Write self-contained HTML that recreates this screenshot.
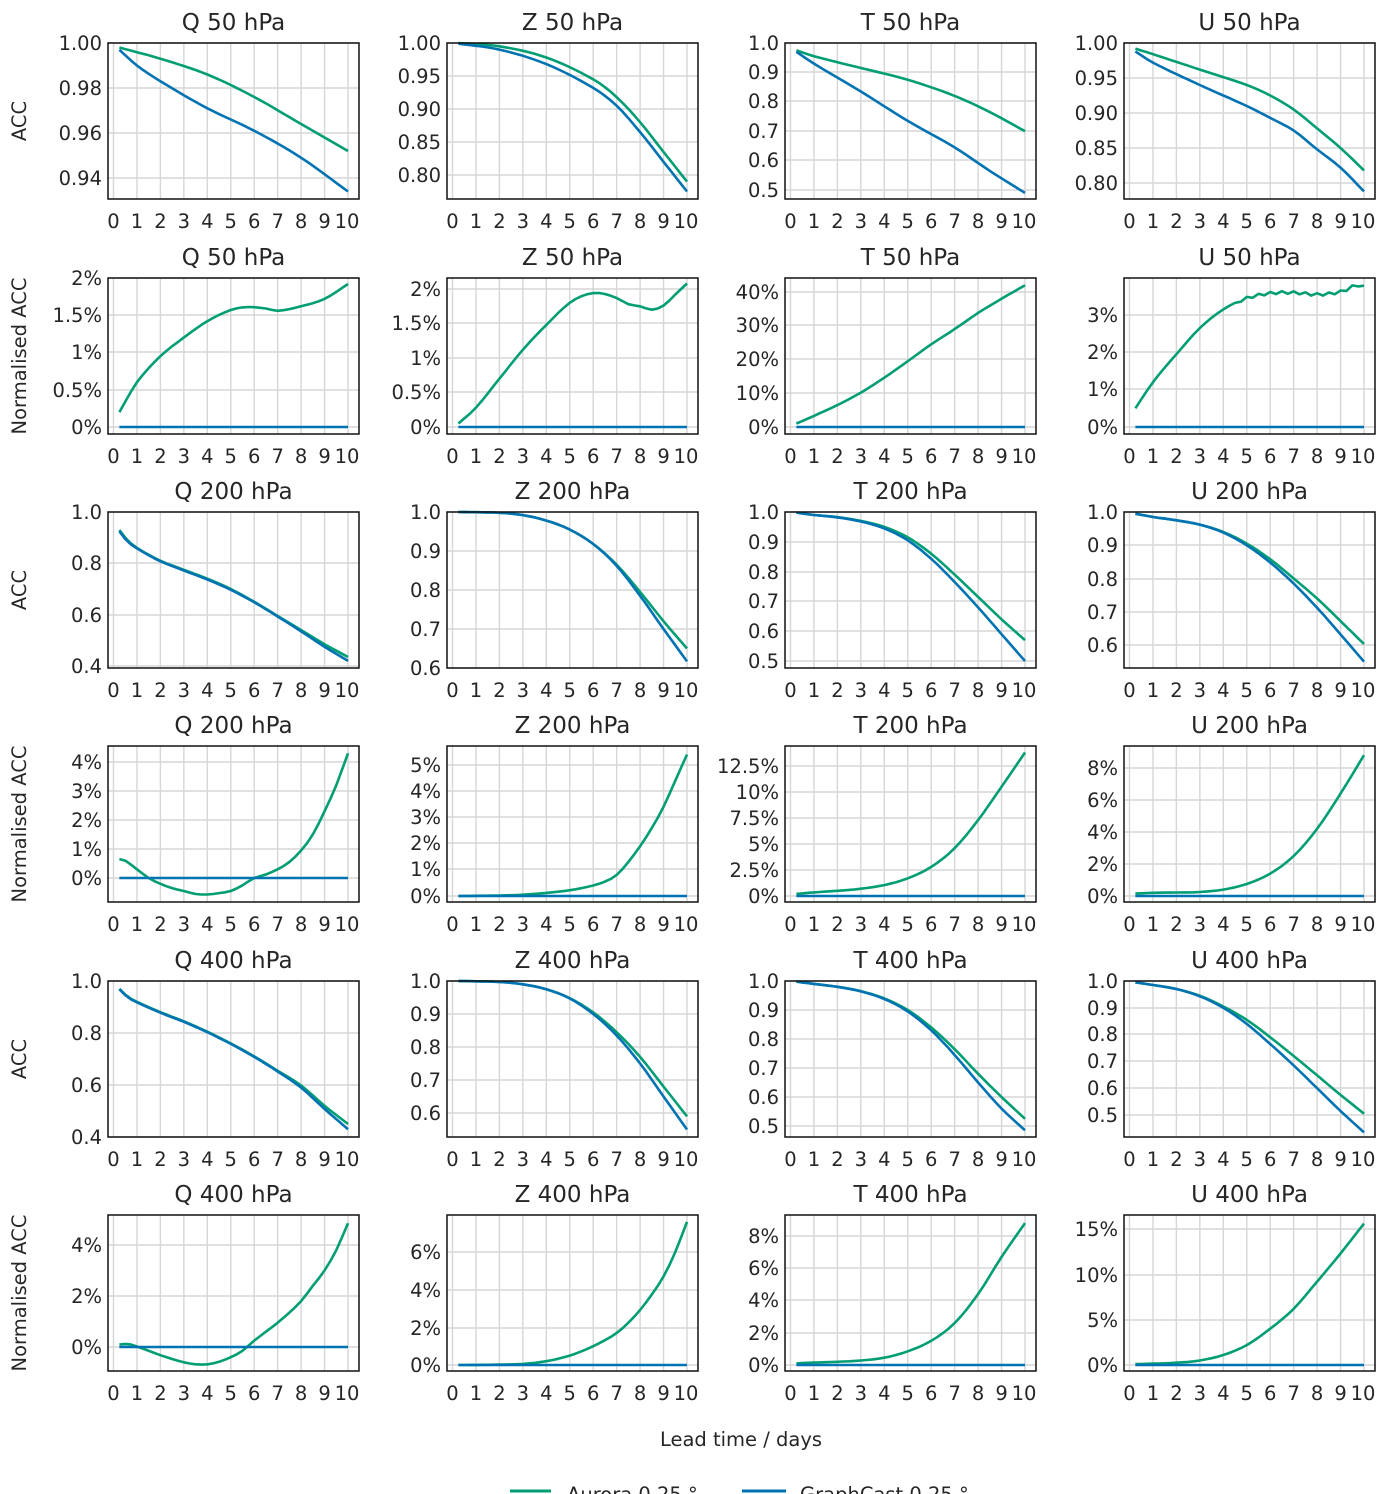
<!DOCTYPE html>
<html><head><meta charset="utf-8"><style>
html,body{margin:0;padding:0;background:#fff;}
svg{display:block;}
text{font-family:"DejaVu Sans","Liberation Sans",sans-serif;fill:#262626;}
</style></head><body>
<svg id="s" width="1380" height="1494" xmlns="http://www.w3.org/2000/svg"></svg>
<script>
const S=document.getElementById('s');
const COLX=[108,447,785,1124], ROWY=[43,278,512,746,981,1215], W=251, H=156;
const G='#029e73', B='#0173b2';
const P=[
[0,0,'Q 50 hPa',[['1.00',43,1],['0.98',88,.98],['0.96',133,.96],['0.94',178,.94]],
 [[.25,.998],[2,.993],[4,.986],[6,.976],[8,.964],[10,.952]],
 [[.25,.997],[1,.99],[2,.983],[4,.971],[6,.961],[8,.949],[10,.934]]],
[0,1,'Z 50 hPa',[['1.00',43,1],['0.95',76,.95],['0.90',109,.90],['0.85',142,.85],['0.80',175,.80]],
 [[.25,1],[2,.995],[4,.978],[6,.945],[7,.918],[8,.88],[9,.835],[10,.79]],
 [[.25,.999],[2,.99],[4,.968],[6,.932],[7,.905],[8,.865],[9,.82],[10,.775]]],
[0,2,'T 50 hPa',[['1.0',43,1],['0.9',72,.9],['0.8',101,.8],['0.7',131,.7],['0.6',160,.6],['0.5',190,.5]],
 [[.25,.975],[1,.955],[3,.915],[5,.875],[7,.82],[8.5,.765],[10,.70]],
 [[.25,.97],[1,.93],[3,.835],[5,.735],[7,.645],[8.5,.565],[10,.49]]],
[0,3,'U 50 hPa',[['1.00',43,1],['0.95',78,.95],['0.90',113,.90],['0.85',148,.85],['0.80',183,.80]],
 [[.25,.992],[1,.984],[3,.962],[5,.94],[6,.925],[7,.905],[8,.878],[9,.85],[10,.818]],
 [[.25,.988],[1,.972],[3,.94],[5,.91],[6,.893],[7,.875],[8,.848],[9,.822],[10,.788]]],

[1,0,'Q 50 hPa',[['2%',278,2],['1.5%',315,1.5],['1%',352,1],['0.5%',390,.5],['0%',427,0]],
 [[.25,.2],[1,.6],[2,.95],[3,1.2],[4,1.42],[5,1.57],[5.7,1.61],[6.5,1.59],[7,1.56],[8,1.62],[9,1.72],[10,1.92]],null],
[1,1,'Z 50 hPa',[['2%',289,2],['1.5%',323,1.5],['1%',358,1],['0.5%',392,.5],['0%',427,0]],
 [[.25,.05],[1,.28],[2,.7],[3,1.12],[4,1.48],[5,1.8],[5.7,1.92],[6.3,1.94],[7,1.87],[7.5,1.78],[8,1.75],[8.5,1.7],[9,1.76],[9.5,1.92],[10,2.08]],null],
[1,2,'T 50 hPa',[['40%',292,40],['30%',325,30],['20%',359,20],['10%',393,10],['0%',427,0]],
 [[.25,1],[1,3.3],[2,6.5],[3,10.2],[4,14.6],[5,19.5],[6,24.5],[7,29],[8,33.8],[9,38],[10,42]],null],
[1,3,'U 50 hPa',[['3%',315,3],['2%',352,2],['1%',389,1],['0%',427,0]],
 [[.25,.5],[1,1.2],[2,1.95],[3,2.65],[4,3.15],[5,3.45],[6,3.58],[7,3.6],[8,3.55],[9,3.62],[9.7,3.8],[10,3.75]],null,true],

[2,0,'Q 200 hPa',[['1.0',512,1],['0.8',563,.8],['0.6',615,.6],['0.4',666,.4]],
 [[.25,.93],[.6,.89],[1,.86],[2,.81],[3,.775],[4,.74],[5,.7],[6,.65],[7,.595],[8,.54],[9,.485],[10,.435]],
 [[.25,.925],[.6,.885],[1,.858],[2,.808],[3,.772],[4,.737],[5,.697],[6,.648],[7,.593],[8,.535],[9,.475],[10,.42]]],
[2,1,'Z 200 hPa',[['1.0',512,1],['0.9',551,.9],['0.8',590,.8],['0.7',629,.7],['0.6',668,.6]],
 [[.25,1],[2,.998],[3,.992],[4,.978],[5,.955],[6,.918],[7,.865],[8,.795],[9,.72],[10,.65]],
 [[.25,1],[2,.998],[3,.992],[4,.978],[5,.955],[6,.918],[7,.862],[8,.785],[9,.7],[10,.617]]],
[2,2,'T 200 hPa',[['1.0',512,1],['0.9',542,.9],['0.8',572,.8],['0.7',601,.7],['0.6',631,.6],['0.5',661,.5]],
 [[.25,.998],[1,.99],[2,.983],[3,.97],[4,.95],[5,.915],[6,.86],[7,.79],[8,.715],[9,.64],[10,.57]],
 [[.25,.998],[1,.99],[2,.982],[3,.968],[4,.945],[5,.905],[6,.843],[7,.765],[8,.68],[9,.59],[10,.5]]],
[2,3,'U 200 hPa',[['1.0',512,1],['0.9',545,.9],['0.8',579,.8],['0.7',612,.7],['0.6',645,.6]],
 [[.25,.995],[1,.985],[2,.975],[3,.962],[4,.94],[5,.905],[6,.858],[7,.8],[8,.74],[9,.672],[10,.603]],
 [[.25,.995],[1,.985],[2,.975],[3,.962],[4,.938],[5,.9],[6,.848],[7,.785],[8,.712],[9,.632],[10,.55]]],

[3,0,'Q 200 hPa',[['4%',762,4],['3%',791,3],['2%',820,2],['1%',849,1],['0%',878,0]],
 [[.25,.65],[.5,.6],[1,.3],[1.5,0],[2,-.2],[2.5,-.35],[3,-.45],[3.5,-.55],[4,-.57],[4.5,-.52],[5,-.45],[5.5,-.25],[6,0],[6.5,.12],[7,.3],[7.5,.55],[8,.95],[8.5,1.5],[9,2.3],[9.5,3.2],[10,4.3]],null],
[3,1,'Z 200 hPa',[['5%',765,5],['4%',791,4],['3%',817,3],['2%',843,2],['1%',869,1],['0%',896,0]],
 [[.25,0],[2,.02],[3,.05],[4,.12],[5,.22],[6,.4],[6.5,.55],[7,.8],[7.5,1.3],[8,1.9],[8.5,2.6],[9,3.4],[9.5,4.4],[10,5.4]],null],
[3,2,'T 200 hPa',[['12.5%',766,12.5],['10%',792,10],['7.5%',818,7.5],['5%',844,5],['2.5%',870,2.5],['0%',896,0]],
 [[.25,.2],[1,.35],[2,.5],[3,.7],[4,1.05],[5,1.7],[6,2.8],[7,4.6],[8,7.3],[9,10.5],[10,13.8]],null],
[3,3,'U 200 hPa',[['8%',768,8],['6%',800,6],['4%',832,4],['2%',864,2],['0%',896,0]],
 [[.25,.15],[1,.2],[2,.22],[3,.25],[4,.4],[5,.75],[6,1.4],[7,2.5],[8,4.2],[9,6.4],[10,8.8]],null],

[4,0,'Q 400 hPa',[['1.0',981,1],['0.8',1033,.8],['0.6',1085,.6],['0.4',1137,.4]],
 [[.25,.97],[.6,.94],[1,.92],[2,.88],[3,.845],[4,.805],[5,.76],[6,.71],[7,.655],[8,.598],[9,.52],[10,.45]],
 [[.25,.968],[.6,.938],[1,.918],[2,.878],[3,.843],[4,.803],[5,.758],[6,.708],[7,.652],[8,.59],[9,.508],[10,.43]]],
[4,1,'Z 400 hPa',[['1.0',981,1],['0.9',1014,.9],['0.8',1047,.8],['0.7',1080,.7],['0.6',1113,.6]],
 [[.25,1],[2,.997],[3,.99],[4,.975],[5,.948],[6,.905],[7,.845],[8,.77],[9,.68],[10,.59]],
 [[.25,1],[2,.997],[3,.99],[4,.975],[5,.947],[6,.9],[7,.835],[8,.75],[9,.65],[10,.55]]],
[4,2,'T 400 hPa',[['1.0',981,1],['0.9',1010,.9],['0.8',1039,.8],['0.7',1068,.7],['0.6',1097,.6],['0.5',1126,.5]],
 [[.25,.998],[1,.99],[2,.98],[3,.965],[4,.94],[5,.9],[6,.84],[7,.765],[8,.68],[9,.6],[10,.525]],
 [[.25,.998],[1,.99],[2,.98],[3,.964],[4,.938],[5,.895],[6,.83],[7,.745],[8,.65],[9,.56],[10,.485]]],
[4,3,'U 400 hPa',[['1.0',981,1],['0.9',1008,.9],['0.8',1034,.8],['0.7',1061,.7],['0.6',1088,.6],['0.5',1115,.5]],
 [[.25,.995],[1,.985],[2,.97],[3,.945],[4,.905],[5,.855],[6,.79],[7,.72],[8,.648],[9,.575],[10,.505]],
 [[.25,.995],[1,.985],[2,.97],[3,.943],[4,.9],[5,.84],[6,.765],[7,.685],[8,.6],[9,.515],[10,.435]]],

[5,0,'Q 400 hPa',[['4%',1245,4],['2%',1296,2],['0%',1347,0]],
 [[.25,.1],[.6,.12],[1,.02],[1.5,-.15],[2,-.32],[2.5,-.47],[3,-.6],[3.5,-.68],[4,-.68],[4.5,-.58],[5,-.4],[5.5,-.15],[6,.25],[6.5,.6],[7,.95],[7.5,1.35],[8,1.8],[8.5,2.4],[9,3],[9.5,3.8],[10,4.85]],null],
[5,1,'Z 400 hPa',[['6%',1252,6],['4%',1290,4],['2%',1328,2],['0%',1365,0]],
 [[.25,0],[2,.02],[3,.06],[4,.2],[5,.5],[6,1],[7,1.7],[7.7,2.5],[8.3,3.4],[9,4.7],[9.5,6],[10,7.6]],null],
[5,2,'T 400 hPa',[['8%',1236,8],['6%',1268,6],['4%',1300,4],['2%',1333,2],['0%',1365,0]],
 [[.25,.1],[1,.15],[2,.2],[3,.28],[4,.45],[5,.85],[6,1.5],[7,2.6],[8,4.4],[9,6.7],[10,8.8]],null],
[5,3,'U 400 hPa',[['15%',1229,15],['10%',1275,10],['5%',1320,5],['0%',1365,0]],
 [[.25,.1],[1,.15],[2,.25],[3,.5],[4,1.1],[5,2.2],[6,4],[7,6.2],[8,9.2],[9,12.3],[10,15.6]],null],
];
let h='';
function interp(pts,x){
  let i=0; while(i<pts.length-2&&x>pts[i+1][0])i++;
  const p0=pts[Math.max(i-1,0)],p1=pts[i],p2=pts[i+1],p3=pts[Math.min(i+2,pts.length-1)];
  const t=(x-p1[0])/(p2[0]-p1[0]);
  const m1=(p2[1]-p0[1])/(p2[0]-p0[0])*(p2[0]-p1[0]);
  const m2=(p3[1]-p1[1])/(p3[0]-p1[0])*(p2[0]-p1[0]);
  const t2=t*t,t3=t2*t;
  return (2*t3-3*t2+1)*p1[1]+(t3-2*t2+t)*m1+(-2*t3+3*t2)*p2[1]+(t3-t2)*m2;
}
for(const p of P){
  const [r,c,title,ticks,gp,bp,noisy]=p;
  const x0=COLX[c],y0=ROWY[r];
  const xd=d=>x0+5.5+d*23.45;
  const a=ticks[0],b=ticks[ticks.length-1];
  const yv=v=>a[1]+(v-a[2])*(b[1]-a[1])/(b[2]-a[2]);
  for(let d=0;d<=10;d++)h+=`<line x1="${xd(d)}" x2="${xd(d)}" y1="${y0}" y2="${y0+H}" stroke="#d6d6d6" stroke-width="1.4"/>`;
  for(const t of ticks){h+=`<line x1="${x0}" x2="${x0+W}" y1="${t[1]}" y2="${t[1]}" stroke="#d6d6d6" stroke-width="1.4"/>`;
    h+=`<text x="${x0-6}" y="${t[1]+7}" font-size="19.5" text-anchor="end">${t[0]}</text>`;}
  for(let d=0;d<=10;d++)h+=`<text x="${d==10?xd(d)-1:xd(d)}" y="${y0+H+29}" font-size="19.5" text-anchor="middle">${d}</text>`;
  h+=`<text x="${x0+W/2}" y="${y0-13}" font-size="23" text-anchor="middle">${title}</text>`;
  const line=(pts,col,nz)=>{let s='';let k=0;for(let d=.25;d<=10.001;d+=.25,k++){let v=interp(pts,d);if(nz&&d>4.5)v+=(k%2?0.035:-0.035);s+=(s?'L':'M')+xd(d).toFixed(1)+','+yv(v).toFixed(1);}
    h+=`<path d="${s}" fill="none" stroke="${col}" stroke-width="2.6" stroke-linejoin="round"/>`;};
  line(gp,G,noisy);
  if(bp)line(bp,B);else h+=`<line x1="${xd(.25)}" x2="${xd(10)}" y1="${yv(0)}" y2="${yv(0)}" stroke="${B}" stroke-width="2.6"/>`;
  h+=`<rect x="${x0}" y="${y0}" width="${W}" height="${H}" fill="none" stroke="#111" stroke-width="1.5"/>`;
  if(c==0){const lab=r%2?'Normalised ACC':'ACC';h+=`<text transform="translate(26,${y0+H/2}) rotate(-90)" font-size="19.5" text-anchor="middle">${lab}</text>`;}
}
h+=`<text x="741" y="1446" font-size="19.5" text-anchor="middle">Lead time / days</text>`;
h+=`<line x1="510" x2="551" y1="1491" y2="1491" stroke="${G}" stroke-width="3"/><text x="567" y="1501" font-size="19.5">Aurora 0.25 °</text>`;
h+=`<line x1="742" x2="786" y1="1491" y2="1491" stroke="${B}" stroke-width="3"/><text x="800" y="1501" font-size="19.5">GraphCast 0.25 °</text>`;
S.innerHTML=h;
</script>
</body></html>
